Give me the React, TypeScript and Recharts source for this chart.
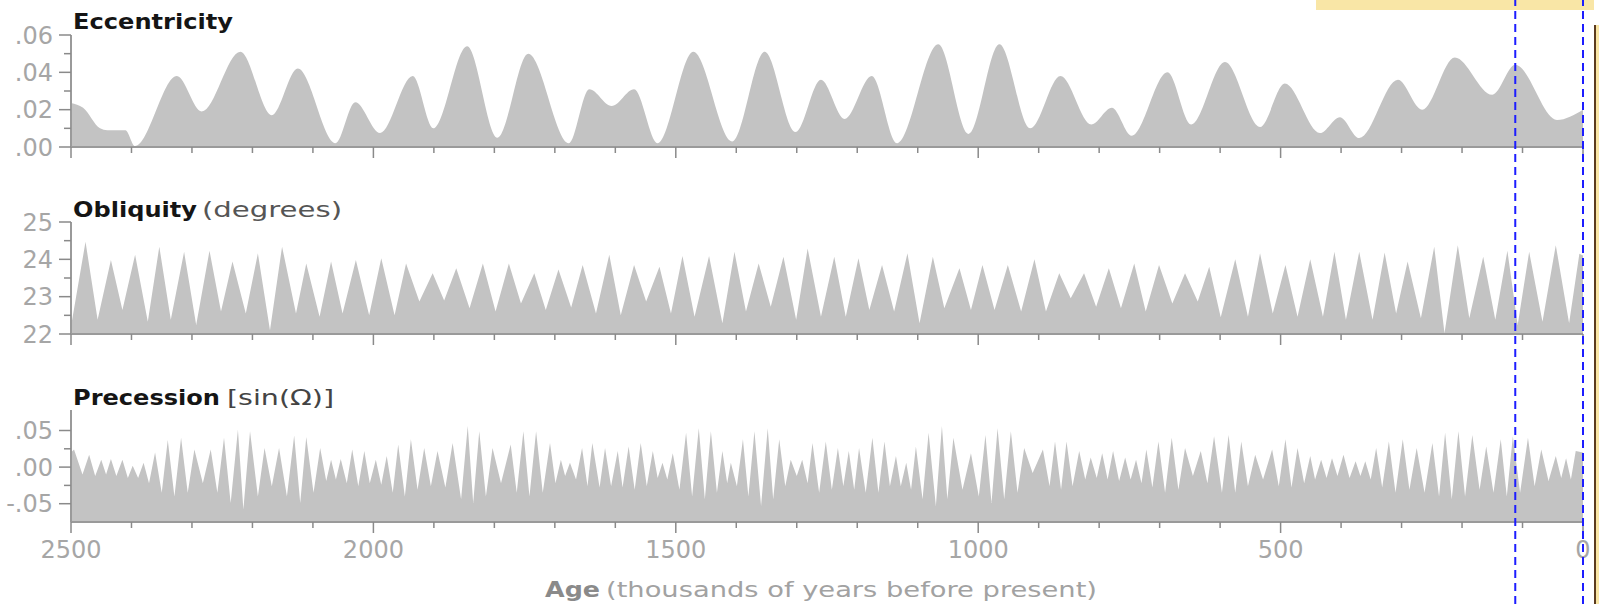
import React from 'react';
import { AreaChart, Area, XAxis, YAxis, ComposedChart, Line, ReferenceLine } from 'recharts';

const FONT = '"DejaVu Sans", Verdana, sans-serif';
const FILL = '#c3c3c3';
const AXIS = '#9a9a9a';
const TICK = '#8a8a8a';
const LABEL = '#a6a6a6';

// age in thousands of years before present
const xTicks = [0, 100, 200, 300, 400, 500, 600, 700, 800, 900, 1000, 1100, 1200,
  1300, 1400, 1500, 1600, 1700, 1800, 1900, 2000, 2100, 2200, 2300, 2400, 2500];

const eccTicks = [0, 0.01, 0.02, 0.03, 0.04, 0.05, 0.06];
const eccLabels = ['.00', '', '.02', '', '.04', '', '.06'];
const oblTicks = [22, 22.5, 23, 23.5, 24, 24.5, 25];
const oblLabels = ['22', '', '23', '', '24', '', '25'];
const precTicks = [-0.05, -0.025, 0, 0.025, 0.05];
const precLabels = ['-.05', '', '.00', '', '.05'];

const eccAge = [2500, 2480, 2452, 2440, 2410, 2394, 2325, 2284, 2220, 2168,
  2125, 2063, 2030, 1989, 1935, 1901, 1845, 1795, 1744, 1677,
  1643, 1606, 1569, 1530, 1471, 1407, 1353, 1302, 1260, 1221,
  1176, 1134, 1066, 1016, 965, 914, 864, 813, 779, 746,
  687, 648, 592, 534, 493, 435, 402, 370, 306, 266,
  212, 150, 112, 43, 0];
const eccValue = [0.0236, 0.021, 0.010, 0.009, 0.009, 0.0005, 0.038, 0.019, 0.051, 0.017,
  0.042, 0.002, 0.024, 0.0075, 0.038, 0.010, 0.054, 0.005, 0.050, 0.002,
  0.031, 0.022, 0.031, 0.002, 0.051, 0.003, 0.051, 0.008, 0.036, 0.015,
  0.038, 0.002, 0.055, 0.007, 0.055, 0.010, 0.038, 0.012, 0.021, 0.006,
  0.040, 0.012, 0.0455, 0.0107, 0.034, 0.0075, 0.016, 0.0048, 0.036, 0.020,
  0.048, 0.028, 0.044, 0.0145, 0.020];

const oblAge = [2500, 2476, 2456, 2434, 2415, 2394, 2373, 2354, 2335, 2313,
  2293, 2271, 2252, 2233, 2211, 2191, 2171, 2151, 2128, 2111,
  2089, 2070, 2051, 2029, 2007, 1987, 1965, 1946, 1924, 1902,
  1883, 1863, 1841, 1819, 1798, 1776, 1756, 1734, 1715, 1694,
  1673, 1654, 1632, 1610, 1591, 1569, 1549, 1527, 1508, 1489,
  1469, 1445, 1423, 1403, 1384, 1363, 1343, 1322, 1301, 1282,
  1260, 1238, 1219, 1198, 1180, 1159, 1139, 1117, 1097, 1075,
  1056, 1031, 1012, 993, 973, 951, 929, 907, 888, 866,
  847, 825, 805, 784, 764, 742, 723, 701, 679, 658,
  637, 618, 599, 575, 554, 534, 513, 492, 472, 451,
  430, 411, 392, 370, 348, 328, 309, 290, 268, 246,
  229, 207, 188, 165, 145, 125, 108, 89, 67, 45,
  23, 6, 0];
const oblValue = [22.2, 24.47, 22.38, 23.98, 22.64, 24.12, 22.33, 24.34, 22.38, 24.2,
  22.24, 24.23, 22.6, 23.94, 22.55, 24.16, 22.1, 24.34, 22.55, 23.89,
  22.46, 23.94, 22.55, 23.98, 22.5, 24.03, 22.5, 23.89, 22.87, 23.63,
  22.9, 23.76, 22.69, 23.89, 22.6, 23.89, 22.82, 23.63, 22.64, 23.73,
  22.71, 23.85, 22.55, 24.12, 22.5, 23.85, 22.87, 23.8, 22.55, 24.09,
  22.46, 24.09, 22.29, 24.2, 22.6, 23.89, 22.73, 24.07, 22.38, 24.29,
  22.46, 24.07, 22.46, 24.03, 22.64, 23.85, 22.6, 24.16, 22.29, 24.07,
  22.69, 23.76, 22.64, 23.85, 22.64, 23.85, 22.6, 24.0, 22.6, 23.63,
  22.96, 23.63, 22.73, 23.76, 22.69, 23.89, 22.6, 23.85, 22.82, 23.63,
  22.87, 23.8, 22.45, 24.0, 22.46, 24.16, 22.55, 23.85, 22.46, 24.0,
  22.46, 24.2, 22.38, 24.2, 22.38, 24.18, 22.55, 23.94, 22.42, 24.34,
  22.02, 24.38, 22.42, 24.07, 22.38, 24.23, 22.24, 24.2, 22.33, 24.38,
  22.29, 24.15, 24.1];

const precAge = [2500, 2495, 2481, 2470, 2460, 2450, 2442, 2434, 2425, 2415,
  2406, 2398, 2389, 2380, 2371, 2361, 2350, 2340, 2329, 2318,
  2307, 2296, 2282, 2269, 2258, 2247, 2236, 2224, 2215, 2204,
  2191, 2180, 2168, 2156, 2143, 2131, 2121, 2111, 2099, 2088,
  2078, 2070, 2062, 2054, 2044, 2035, 2025, 2015, 2006, 1996,
  1987, 1978, 1968, 1959, 1948, 1938, 1927, 1916, 1905, 1894,
  1881, 1869, 1855, 1844, 1835, 1825, 1814, 1803, 1789, 1773,
  1763, 1752, 1742, 1731, 1720, 1708, 1699, 1690, 1683, 1675,
  1665, 1655, 1646, 1638, 1626, 1617, 1607, 1596, 1588, 1578,
  1568, 1558, 1548, 1538, 1530, 1522, 1514, 1505, 1494, 1483,
  1473, 1462, 1452, 1442, 1432, 1423, 1415, 1409, 1399, 1389,
  1380, 1370, 1359, 1348, 1339, 1329, 1319, 1310, 1300, 1291,
  1282, 1274, 1263, 1252, 1242, 1232, 1223, 1214, 1205, 1197,
  1186, 1175, 1165, 1155, 1146, 1136, 1128, 1119, 1111, 1103,
  1092, 1082, 1070, 1060, 1051, 1041, 1026, 1012, 999, 988,
  978, 968, 957, 946, 935, 924, 910, 893, 882, 873,
  863, 854, 844, 833, 823, 814, 804, 795, 786, 777,
  767, 757, 748, 739, 730, 722, 712, 702, 691, 680,
  669, 658, 645, 632, 621, 610, 597, 586, 575, 565,
  554, 542, 529, 514, 503, 492, 482, 472, 461, 451,
  443, 433, 424, 415, 406, 396, 386, 376, 368, 360,
  351, 342, 332, 321, 310, 298, 287, 275, 262, 249,
  238, 228, 217, 206, 195, 183, 171, 160, 148, 136,
  126, 116, 104, 91, 80, 69, 57, 45, 36, 28,
  20, 12, 0];
const precValue = [0.020, 0.024, -0.010, 0.017, -0.012, 0.010, -0.010, 0.011, -0.012, 0.010,
  -0.015, 0.002, -0.015, 0.006, -0.022, 0.020, -0.035, 0.037, -0.040, 0.040,
  -0.035, 0.024, -0.022, 0.024, -0.035, 0.040, -0.049, 0.051, -0.058, 0.049,
  -0.040, 0.026, -0.026, 0.026, -0.040, 0.043, -0.049, 0.041, -0.035, 0.026,
  -0.019, 0.010, -0.017, 0.011, -0.022, 0.024, -0.026, 0.022, -0.022, 0.010,
  -0.024, 0.015, -0.035, 0.031, -0.040, 0.038, -0.031, 0.026, -0.026, 0.022,
  -0.028, 0.033, -0.044, 0.056, -0.049, 0.049, -0.040, 0.026, -0.022, 0.031,
  -0.035, 0.049, -0.040, 0.049, -0.035, 0.033, -0.022, 0.010, -0.012, 0.006,
  -0.017, 0.026, -0.026, 0.033, -0.028, 0.026, -0.026, 0.022, -0.028, 0.028,
  -0.031, 0.033, -0.026, 0.022, -0.015, 0.006, -0.017, 0.019, -0.031, 0.047,
  -0.040, 0.053, -0.044, 0.049, -0.035, 0.022, -0.022, 0.006, -0.026, 0.038,
  -0.040, 0.049, -0.053, 0.053, -0.044, 0.038, -0.026, 0.010, -0.012, 0.010,
  -0.022, 0.033, -0.035, 0.035, -0.031, 0.026, -0.026, 0.022, -0.031, 0.026,
  -0.035, 0.040, -0.035, 0.035, -0.026, 0.015, -0.026, 0.006, -0.031, 0.028,
  -0.044, 0.047, -0.053, 0.056, -0.044, 0.040, -0.031, 0.019, -0.040, 0.044,
  -0.049, 0.053, -0.044, 0.049, -0.035, 0.026, -0.008, 0.024, -0.026, 0.035,
  -0.031, 0.035, -0.026, 0.022, -0.017, 0.013, -0.015, 0.019, -0.017, 0.022,
  -0.019, 0.013, -0.017, 0.010, -0.022, 0.024, -0.028, 0.035, -0.035, 0.040,
  -0.031, 0.026, -0.012, 0.022, -0.022, 0.042, -0.035, 0.044, -0.035, 0.035,
  -0.026, 0.017, -0.017, 0.024, -0.026, 0.038, -0.028, 0.026, -0.022, 0.015,
  -0.017, 0.010, -0.015, 0.012, -0.012, 0.017, -0.015, 0.008, -0.012, 0.008,
  -0.017, 0.026, -0.028, 0.035, -0.035, 0.038, -0.031, 0.026, -0.035, 0.033,
  -0.040, 0.047, -0.044, 0.049, -0.040, 0.044, -0.031, 0.028, -0.035, 0.038,
  -0.040, 0.042, -0.035, 0.040, -0.026, 0.024, -0.019, 0.015, -0.015, 0.012,
  -0.017, 0.022, 0.020];

// dashed marker lines (ka)
const markerAges = [112, 0];

const eccData = eccAge.map((age, i) => ({ age, value: eccValue[i] }));
const oblData = oblAge.map((age, i) => ({ age, value: oblValue[i] }));
const precData = precAge.map((age, i) => ({ age, value: precValue[i] }));
const markerData = markerAges.map((age) => ({ age, level: 0.5 }));

const makeXTick = (showLabel: boolean) => (p: any) => {
  const major = p.payload.value % 500 === 0;
  return (
    <g>
      <line x1={p.x} x2={p.x} y1={p.y} y2={p.y + (major ? 11 : 6)} stroke={TICK} strokeWidth={1.5} />
      {showLabel && major && (
        <text x={p.x} y={p.y + 36} textAnchor="middle" fontSize={24} fontFamily={FONT} fill={LABEL}>
          {p.payload.value}
        </text>
      )}
    </g>
  );
};

const makeYTick = (ticks: number[], labels: string[]) => (p: any) => {
  const label = labels[ticks.indexOf(p.payload.value)] || '';
  const major = label !== '';
  return (
    <g>
      <line x1={p.x - (major ? 12 : 7)} x2={p.x} y1={p.y} y2={p.y} stroke={TICK} strokeWidth={1.5} />
      {major && (
        <text x={p.x - 18} y={p.y} dy="0.36em" textAnchor="end" fontSize={24} fontFamily={FONT} fill={LABEL}>
          {label}
        </text>
      )}
    </g>
  );
};

interface PanelProps {
  data: { age: number; value: number }[];
  top: number;
  height: number;
  xHeight: number;
  domain: [number, number];
  ticks: number[];
  labels: string[];
  curve: 'monotone' | 'linear';
  showXLabels?: boolean;
}

function Panel({ data, top, height, xHeight, domain, ticks, labels, curve, showXLabels = false }: PanelProps) {
  return (
    <div style={{ position: 'absolute', left: 0, top }}>
      <AreaChart width={1599} height={height} data={data} margin={{ top: 35, right: 16, bottom: 0, left: 0 }}>
        <XAxis
          type="number"
          dataKey="age"
          domain={[0, 2500]}
          reversed
          ticks={xTicks}
          interval={0}
          height={xHeight}
          tickSize={0}
          tickMargin={0}
          tickLine={false}
          axisLine={{ stroke: AXIS, strokeWidth: 2 }}
          tick={makeXTick(showXLabels)}
          allowDataOverflow
        />
        <YAxis
          type="number"
          domain={domain}
          ticks={ticks}
          interval={0}
          width={71}
          tickSize={0}
          tickMargin={0}
          tickLine={false}
          axisLine={{ stroke: AXIS, strokeWidth: 2 }}
          tick={makeYTick(ticks, labels)}
          allowDataOverflow
        />
        <Area
          type={curve}
          dataKey="value"
          stroke="none"
          fill={FILL}
          fillOpacity={1}
          baseValue={domain[0]}
          dot={false}
          activeDot={false}
          isAnimationActive={false}
        />
      </AreaChart>
    </div>
  );
}

export default function App() {
  return (
    <div style={{ position: 'absolute', left: 0, top: 0, width: 1599, height: 604, background: '#fff', overflow: 'hidden' }}>
      <Panel data={eccData} top={0} height={187} xHeight={40} domain={[0, 0.06]} ticks={eccTicks} labels={eccLabels} curve="monotone" />
      <Panel data={oblData} top={187} height={188} xHeight={41} domain={[22, 25]} ticks={oblTicks} labels={oblLabels} curve="linear" />
      <Panel data={precData} top={375} height={229} xHeight={82} domain={[-0.075, 0.078]} ticks={precTicks} labels={precLabels} curve="linear" showXLabels />

      <svg width={1599} height={604} style={{ position: 'absolute', left: 0, top: 0, pointerEvents: 'none' }}>
        <text x={73} y={29} fontSize={21} fontWeight="bold" fontFamily={FONT} fill="#151515" textLength={160} lengthAdjust="spacingAndGlyphs">Eccentricity</text>
        <text x={73} y={217} fontSize={21} fontWeight="bold" fontFamily={FONT} fill="#151515" textLength={124} lengthAdjust="spacingAndGlyphs">Obliquity</text>
        <text x={202} y={217} fontSize={21} fontFamily={FONT} fill="#555" textLength={140} lengthAdjust="spacingAndGlyphs">(degrees)</text>
        <text x={73} y={405} fontSize={21} fontWeight="bold" fontFamily={FONT} fill="#151515" textLength={147} lengthAdjust="spacingAndGlyphs">Precession</text>
        <text x={227} y={405} fontSize={21} fontFamily={FONT} fill="#444" textLength={107} lengthAdjust="spacingAndGlyphs">[sin(Ω)]</text>
        <text x={545} y={597} fontSize={21} fontWeight="bold" fontFamily={FONT} fill="#8a8a8a" textLength={55} lengthAdjust="spacingAndGlyphs">Age</text>
        <text x={606} y={597} fontSize={21} fontFamily={FONT} fill="#a2a2a2" textLength={491} lengthAdjust="spacingAndGlyphs">(thousands of years before present)</text>
      </svg>

      <div style={{ position: 'absolute', left: 1316, top: 0, width: 278, height: 10, background: '#f9e6a6' }} />
      <div style={{ position: 'absolute', left: 1594, top: 25, width: 2, height: 579, background: '#5b3b1e' }} />
      <div style={{ position: 'absolute', left: 1596, top: 25, width: 3, height: 579, background: '#f9e6a6' }} />

      <div style={{ position: 'absolute', left: 0, top: 0, pointerEvents: 'none' }}>
        <ComposedChart width={1599} height={604} data={markerData} margin={{ top: 0, right: 16, bottom: 0, left: 71 }}>
          <XAxis type="number" dataKey="age" domain={[0, 2500]} reversed hide allowDataOverflow />
          <YAxis type="number" domain={[0, 1]} hide allowDataOverflow />
          <Line dataKey="level" stroke="none" dot={false} activeDot={false} isAnimationActive={false} />
          {markerAges.map((a) => (
            <ReferenceLine key={a} x={a} stroke="#1d1dff" strokeWidth={2} strokeDasharray="8 5" ifOverflow="visible" />
          ))}
        </ComposedChart>
      </div>
    </div>
  );
}
